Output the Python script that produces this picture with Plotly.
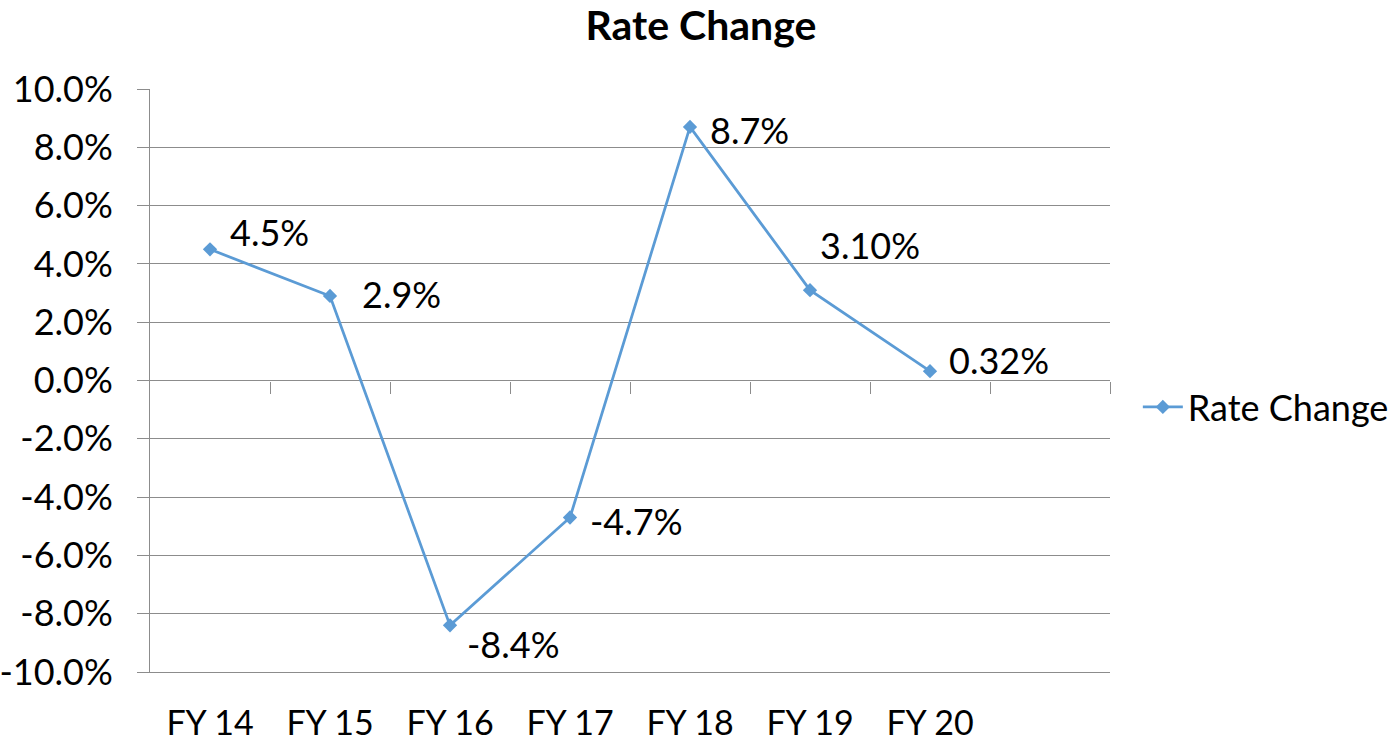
import plotly.graph_objects as go

categories = ["FY 14", "FY 15", "FY 16", "FY 17", "FY 18", "FY 19", "FY 20"]
rate_change = [0.045, 0.029, -0.084, -0.047, 0.087, 0.031, 0.0032]
data_labels = ["4.5%", "2.9%", "-8.4%", "-4.7%", "8.7%", "3.10%", "0.32%"]
y_tick_values = [-0.10, -0.08, -0.06, -0.04, -0.02, 0.0, 0.02, 0.04, 0.06, 0.08, 0.10]
y_tick_labels = ["-10.0%", "-8.0%", "-6.0%", "-4.0%", "-2.0%", "0.0%",
                 "2.0%", "4.0%", "6.0%", "8.0%", "10.0%"]
n_slots = 8  # category slots on the axis (last one empty)

# label offsets (pixels) as in the reference layout
label_xshift = [18, 30, 15, 18, 18, 8, 17]
label_yshift = [17, 2, -19, -3, -3, 45, 11]

FONT = "Lato, Carlito, Calibri, sans-serif"
GRID = "#8c8c8c"
BLUE = "#5B9BD5"

x_pos = list(range(len(categories)))
bounds = [i + 0.5 for i in range(n_slots)]

fig = go.Figure()
fig.add_trace(go.Scatter(
    x=x_pos, y=rate_change, mode="lines+markers", name="Rate Change",
    line=dict(color=BLUE, width=2.75),
    marker=dict(symbol="diamond", size=11, color=BLUE),
))
# invisible trace to activate the zero-crossing tick axis
fig.add_trace(go.Scatter(x=[bounds[0]], y=[0], xaxis="x2", mode="markers",
                         marker=dict(opacity=0), showlegend=False, hoverinfo="skip"))

for xi, yi, txt, dx, dy in zip(x_pos, rate_change, data_labels, label_xshift, label_yshift):
    fig.add_annotation(x=xi, y=yi, text=txt, showarrow=False, xanchor="left",
                       yanchor="middle", xshift=dx, yshift=dy,
                       font=dict(family=FONT, size=36, color="black"))

fig.update_layout(
    width=1390, height=742,
    paper_bgcolor="white", plot_bgcolor="white",
    margin=dict(l=150, r=280, t=89, b=70, autoexpand=False),
    title=dict(text="<b>Rate Change</b>", x=0.5043, xanchor="center",
               y=0.965, yanchor="middle",
               font=dict(family=FONT, size=41, color="black")),
    font=dict(family=FONT, color="black"),
    showlegend=True,
    legend=dict(x=1.029, xanchor="left", y=0.4545, yanchor="middle",
                font=dict(family=FONT, size=36, color="black"),
                bgcolor="rgba(0,0,0,0)", itemwidth=40),
    xaxis=dict(range=[-0.5, n_slots - 0.5], tickmode="array", tickvals=x_pos,
               ticktext=categories, showgrid=False, zeroline=False,
               showline=True, linecolor=GRID, linewidth=1, ticks="",
               ticklabelstandoff=21, automargin=False,
               tickfont=dict(family=FONT, size=34, color="black")),
    xaxis2=dict(range=[-0.5, n_slots - 0.5], overlaying="x", anchor="free",
                position=0.5, side="bottom", tickmode="array", tickvals=bounds,
                showticklabels=False, ticks="outside", ticklen=12, tickcolor=GRID,
                showgrid=False, zeroline=False, showline=False, automargin=False),
    yaxis=dict(range=[-0.10, 0.10], tickmode="array", tickvals=y_tick_values,
               ticktext=y_tick_labels, showgrid=True, gridcolor=GRID, gridwidth=1,
               zeroline=False, showline=True, linecolor=GRID, linewidth=1,
               ticks="outside", ticklen=12, tickcolor=GRID, ticklabelstandoff=17,
               automargin=False,
               tickfont=dict(family=FONT, size=36, color="black")),
)

# remove the default 8px page margin so the figure fills the window exactly
fig.write_html("out.html", config={"displayModeBar": False},
               post_script="document.body.style.margin='0';document.body.style.overflow='hidden';")
